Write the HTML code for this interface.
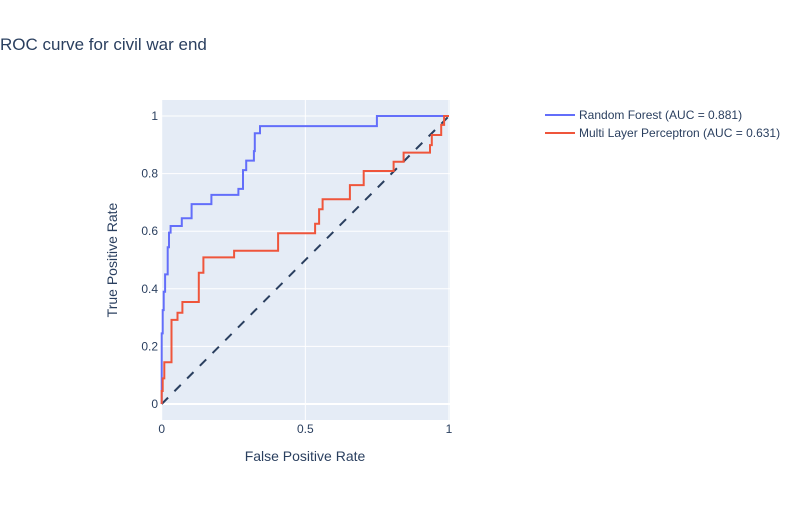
<!DOCTYPE html>
<html><head><meta charset="utf-8"><style>
body{margin:0;background:#fff;font-family:"Liberation Sans",Arial,sans-serif}
svg text{font-family:"Liberation Sans",Arial,sans-serif}
</style></head><body>
<svg id="chart" width="800" height="500">
<rect width="800" height="500" fill="#fff"/>
<text x="0" y="50" font-size="17" fill="#2a3f5f">ROC curve for civil war end</text>
<rect x="161.7" y="100" width="288.3" height="320" fill="#e5ecf6"/>
<g id="grid"></g>
<g id="series"></g>
<text x="305" y="461" font-size="14" fill="#2a3f5f" text-anchor="middle">False Positive Rate</text>
<text transform="translate(117,260) rotate(-90)" font-size="14" fill="#2a3f5f" text-anchor="middle">True Positive Rate</text>
<g>
<g>
<line x1="545" y1="115" x2="575" y2="115" stroke="#636efa" stroke-width="2"/>
<text x="579" y="119" font-size="12" fill="#2a3f5f">Random Forest (AUC = 0.881)</text></g>
<g>
<line x1="545" y1="133" x2="575" y2="133" stroke="#ef553b" stroke-width="2"/>
<text x="579" y="137" font-size="12" fill="#2a3f5f">Multi Layer Perceptron (AUC = 0.631)</text></g>
</g>
</svg>
<script>
const xTicks=[0,0.5,1];
const xTickLabels=["0","0.5","1"];
const yTicks=[0,0.2,0.4,0.6,0.8,1];
const yTickLabels=["0","0.2","0.4","0.6","0.8","1"];
const rfFpr=[0,0,0.0035,0.0035,0.007,0.007,0.012,0.012,0.021,0.021,0.0255,0.0255,0.031,0.031,0.07,0.07,0.104,0.104,0.173,0.173,0.267,0.267,0.283,0.283,0.294,0.294,0.321,0.321,0.324,0.324,0.342,0.342,0.749,0.749,1];
const rfTpr=[0,0.245,0.245,0.326,0.326,0.39,0.39,0.45,0.45,0.544,0.544,0.595,0.595,0.618,0.618,0.645,0.645,0.694,0.694,0.726,0.726,0.747,0.747,0.812,0.812,0.845,0.845,0.878,0.878,0.94,0.94,0.965,0.965,1,1];
const mlpFpr=[0,0,0.0035,0.0035,0.009,0.009,0.034,0.034,0.055,0.055,0.072,0.072,0.129,0.129,0.145,0.145,0.252,0.252,0.405,0.405,0.534,0.534,0.548,0.548,0.56,0.56,0.655,0.655,0.703,0.703,0.807,0.807,0.842,0.842,0.934,0.934,0.94,0.94,0.973,0.973,0.983,0.983,1];
const mlpTpr=[0,0.045,0.045,0.089,0.089,0.145,0.145,0.292,0.292,0.317,0.317,0.354,0.354,0.456,0.456,0.509,0.509,0.532,0.532,0.593,0.593,0.626,0.626,0.676,0.676,0.711,0.711,0.760,0.760,0.809,0.809,0.841,0.841,0.873,0.873,0.899,0.899,0.934,0.934,0.969,0.969,1,1];
const chanceX=[0,1];
const chanceY=[0,1];
const NS="http://www.w3.org/2000/svg";
const X0=161.7,X1=449,Y0=404,Y1=116;
function xs(v){return X0+v*(X1-X0);}
function ys(v){return Y0+v*(Y1-Y0);}
function mk(tag,attrs,parent){const e=document.createElementNS(NS,tag);for(const k in attrs)e.setAttribute(k,attrs[k]);parent.appendChild(e);return e;}
const grid=document.getElementById('grid');
xTicks.forEach((t,i)=>{
  const l=mk('line',{x1:xs(t),x2:xs(t),y1:100,y2:420,stroke:'#fff','stroke-width':1},grid);
  
  
  const tx=mk('text',{x:xs(t),y:433,'font-size':12,fill:'#2a3f5f','text-anchor':'middle'},grid);
  tx.textContent=xTickLabels[i];
  
  
});
yTicks.forEach((t,i)=>{
  const l=mk('line',{x1:161.7,x2:450,y1:ys(t),y2:ys(t),stroke:'#fff','stroke-width':t===0?2:1},grid);
  
  
  const tx=mk('text',{x:158,y:ys(t)+4,'font-size':12,fill:'#2a3f5f','text-anchor':'end'},grid);
  tx.textContent=yTickLabels[i];
  
  
});
const ser=document.getElementById('series');
function pts(a,b){return a.map((v,i)=>xs(v).toFixed(1)+','+ys(b[i]).toFixed(1)).join(' ');}
const ch=mk('polyline',{points:pts(chanceX,chanceY),fill:'none',stroke:'#2a3f5f','stroke-width':2,'stroke-dasharray':'9,9'},ser);


const rf=mk('polyline',{points:pts(rfFpr,rfTpr),fill:'none',stroke:'#636efa','stroke-width':2},ser);


const mlp=mk('polyline',{points:pts(mlpFpr,mlpTpr),fill:'none',stroke:'#ef553b','stroke-width':2},ser);


</script>
</body></html>
